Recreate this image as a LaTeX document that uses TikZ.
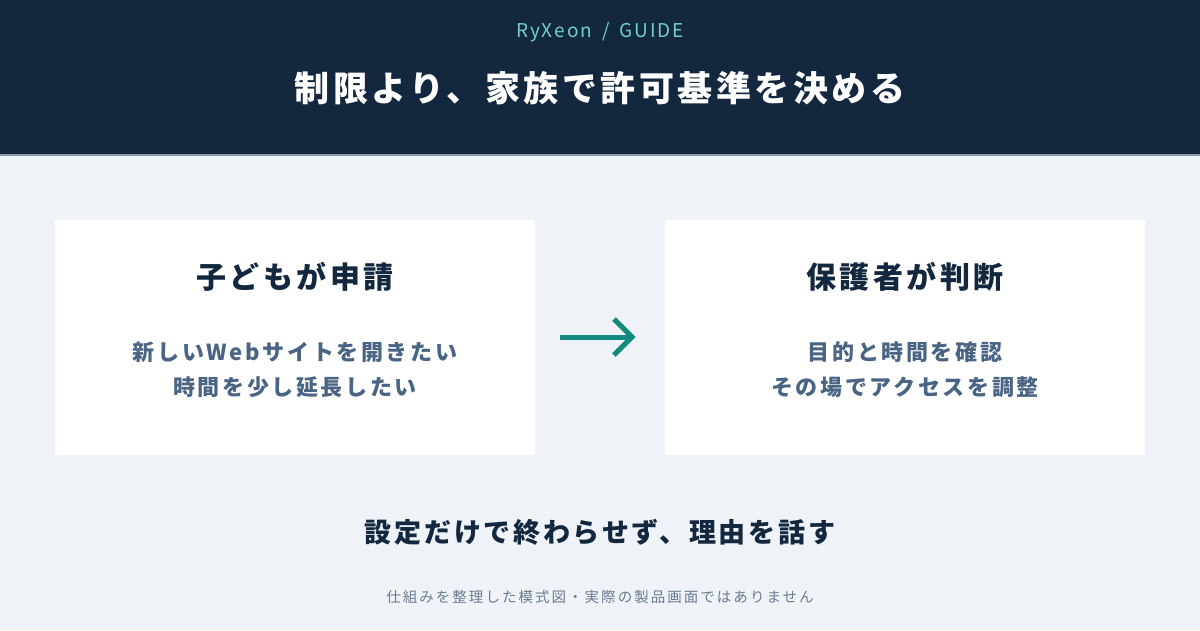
\documentclass[tikz,border=0pt]{standalone}
\usepackage{fontspec}
\usetikzlibrary{arrows.meta}
\newfontfamily\jpA[LetterSpace=10]{Noto Sans CJK JP}
\newfontfamily\jpB[LetterSpace=12]{Noto Sans CJK JP}
\newfontfamily\jpC[LetterSpace=14]{Noto Sans CJK JP}
\definecolor{navy}{HTML}{13283F}
\definecolor{bgc}{HTML}{EFF3F8}
\definecolor{bodyc}{HTML}{4A6584}
\definecolor{teal}{HTML}{128A7D}
\definecolor{tealL}{HTML}{6FD0C4}
\definecolor{notec}{HTML}{6B7C90}
\definecolor{edge}{HTML}{8A97A8}
\begin{document}
\begin{tikzpicture}[x=1pt,y=-1pt,
  card/.style={fill=white,draw=none,minimum width=480pt,minimum height=235pt,inner sep=0pt},
  cardtitle/.style={font=\jpB\bfseries\fontsize{30}{36}\selectfont,text=navy,inner sep=0pt},
  cardbody/.style={font=\jpB\bfseries\fontsize{22}{35}\selectfont,text=bodyc,align=center,inner sep=0pt},
  flow/.style={draw=teal,line width=5pt}]
\useasboundingbox (0,0) rectangle (1200,630);
\fill[bgc] (0,0) rectangle (1200,630);
\fill[navy] (0,0) rectangle (1200,155);
\draw[edge,line width=1.5pt] (0,155) -- (1200,155);
\node[font=\jpA\fontsize{19}{22}\selectfont,text=tealL,inner sep=0pt] (brand) at (600,32) {RyXeon\hspace{10pt}/\hspace{10pt}GUIDE};
\node[font=\jpA\bfseries\fontsize{35}{40}\selectfont,text=white,inner sep=0pt] (title) at (600,88) {制限より、家族で許可基準を決める};
\node[card] (left) at (295,337.5) {};
\node[card] (right) at (905,337.5) {};
\node[cardtitle] (lt) at (295,277) {子どもが申請};
\node[cardbody] (lb) at (295,369.5) {新しいWebサイトを開きたい\\時間を少し延長したい};
\node[cardtitle] (rt) at (905,277) {保護者が判断};
\node[cardbody] (rb) at (905,369.5) {目的と時間を確認\\その場でアクセスを調整};
\coordinate (a1) at (560,337);
\coordinate (a2) at (632,337);
\draw[flow] (a1) -- (a2);
\draw[flow,line join=miter] ([xshift=-18pt,yshift=-18pt]a2) -- (a2) -- ([xshift=-18pt,yshift=18pt]a2);
\node[font=\jpA\bfseries\fontsize{27}{32}\selectfont,text=navy,inner sep=0pt] (msg) at (600,532) {設定だけで終わらせず、理由を話す};
\node[font=\jpC\fontsize{14.5}{18}\selectfont,text=notec,inner sep=0pt] (note) at (600,597) {仕組みを整理した模式図・実際の製品画面ではありません};
\end{tikzpicture}
\end{document}
